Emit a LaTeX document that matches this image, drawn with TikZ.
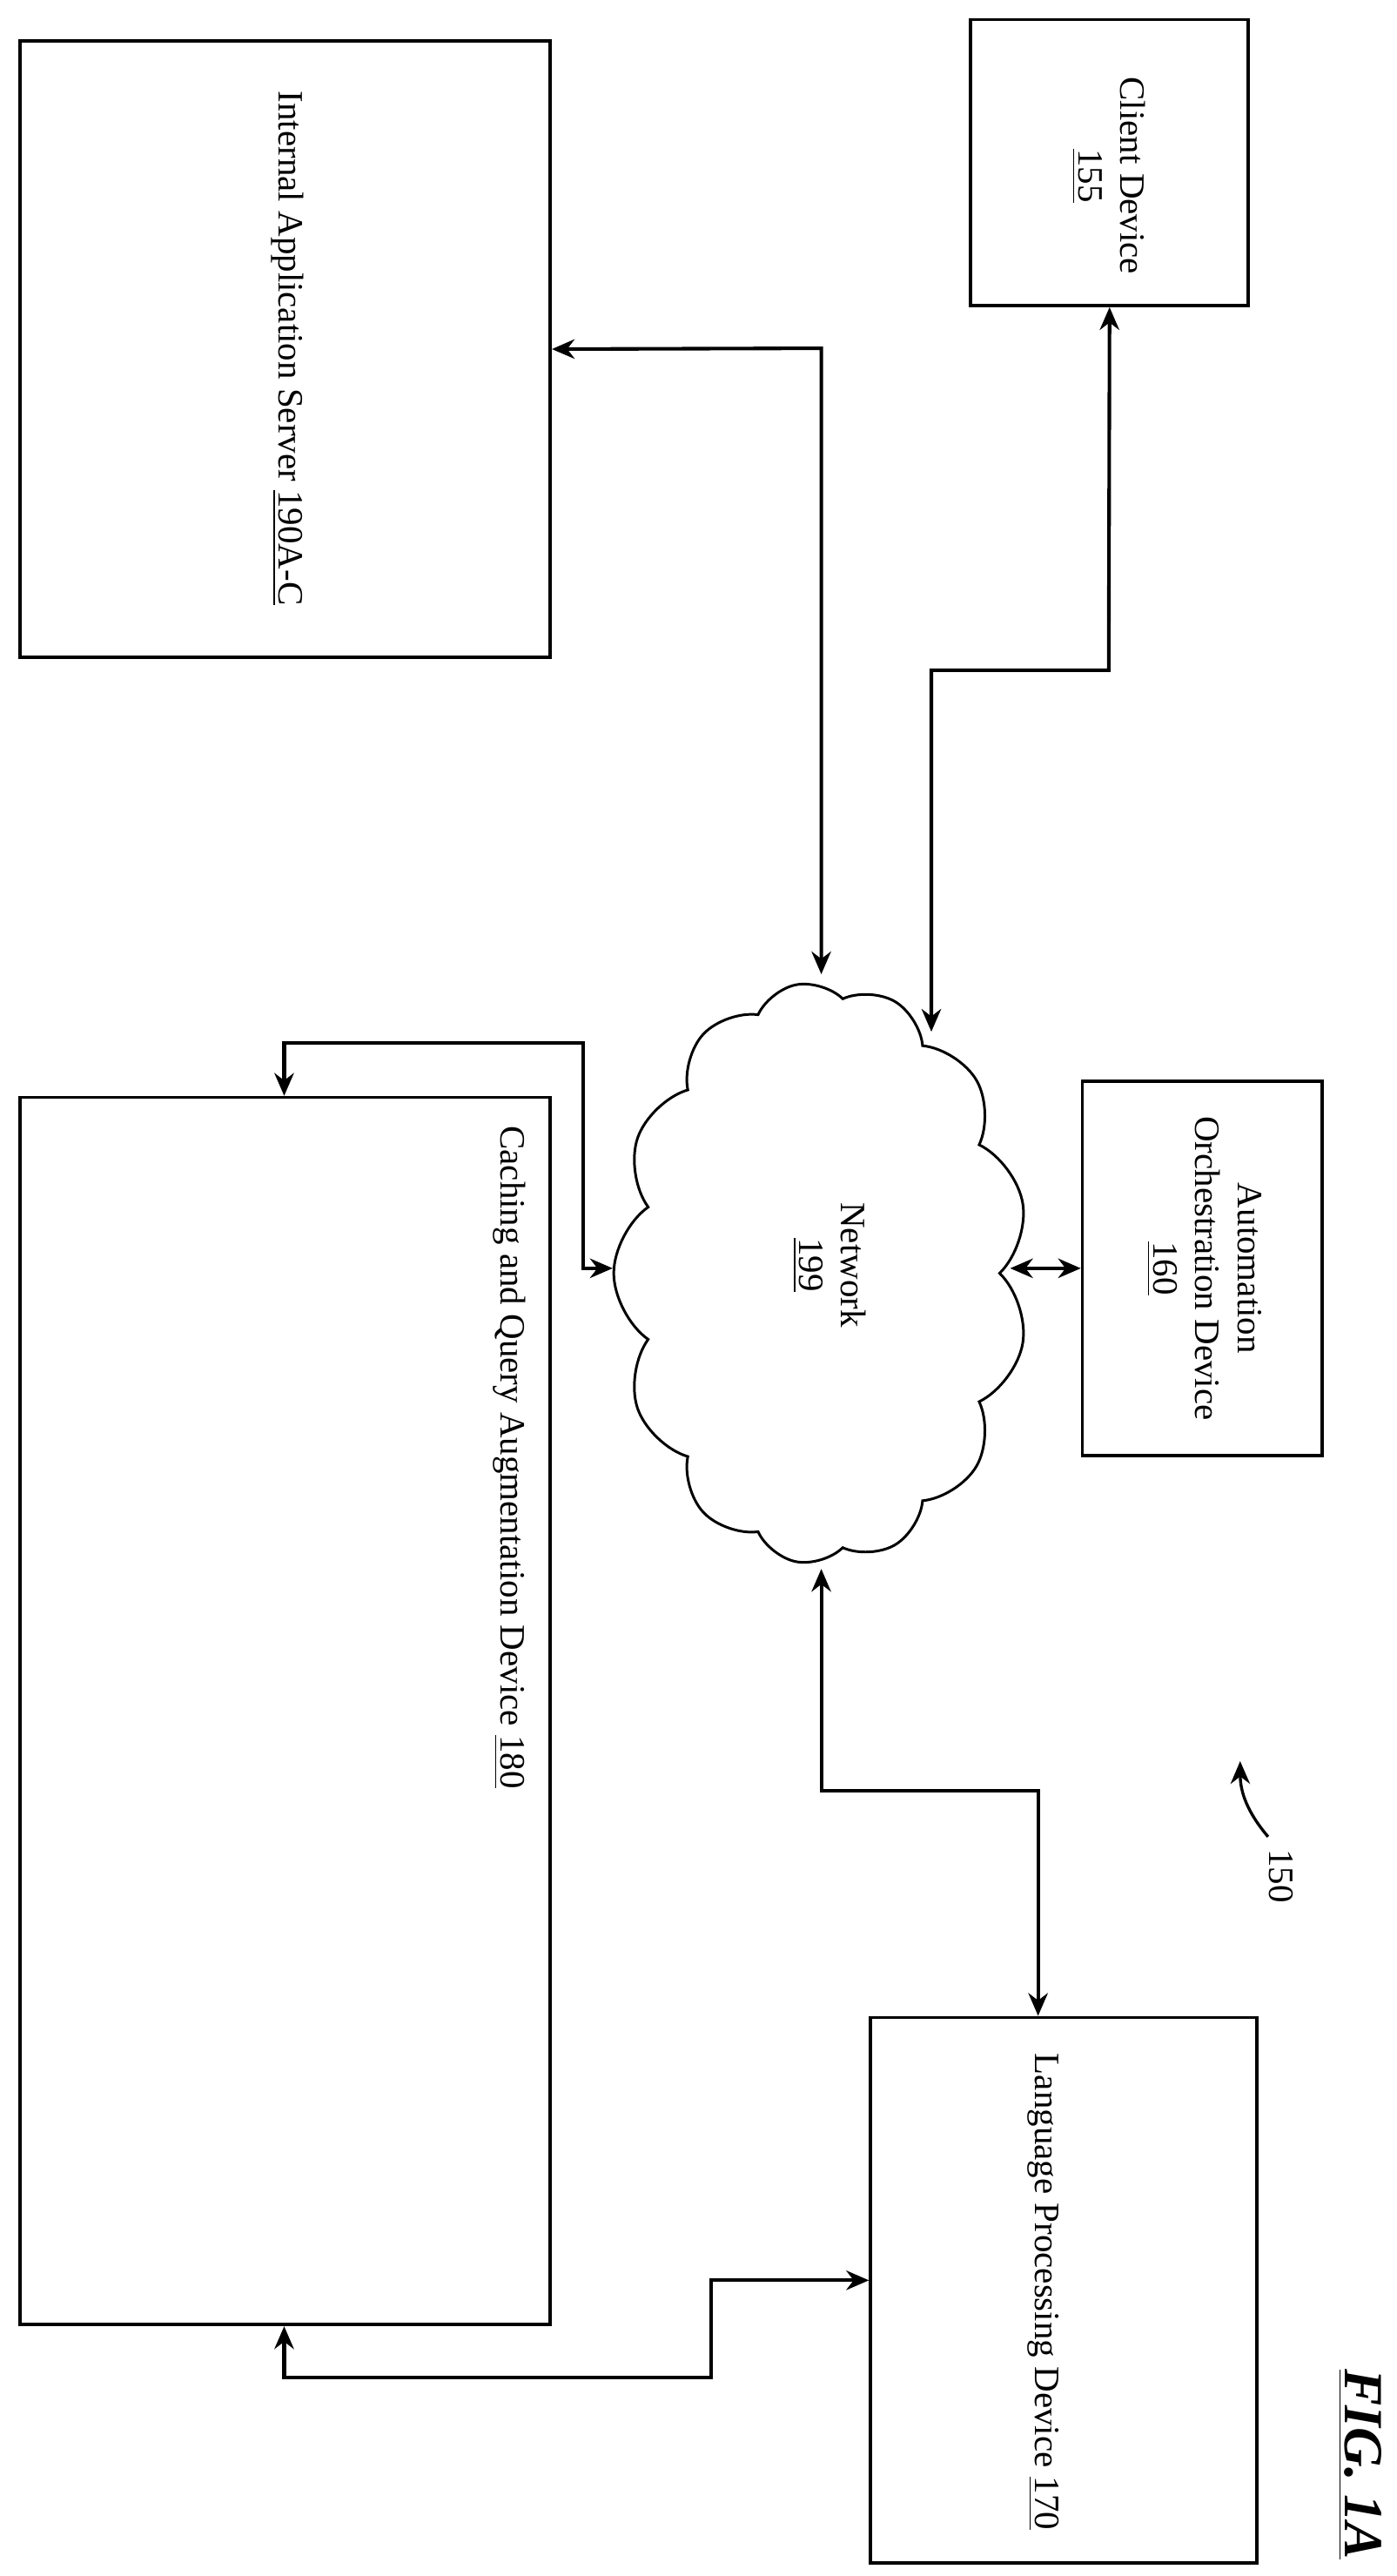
\documentclass[tikz,border=0pt]{standalone}
\usepackage{fontspec}
\setmainfont{Liberation Serif}
\usetikzlibrary{fit,shapes.symbols,arrows.meta}
\begin{document}
\begin{tikzpicture}[x=0.0178cm,y=-0.0178cm,
 box/.style={draw,line width=1pt,inner sep=0pt},
 lbl/.style={rotate=-90,font=\fontsize{11}{13}\selectfont,align=center},
 con/.style={line width=1.1pt,{Stealth[length=7pt,width=6pt]}-{Stealth[length=7pt,width=6pt]}}]
\useasboundingbox (0,0) rectangle (850,1568);
\node[box,fit={(12,25)(335,400)}] (ias) {};
\node[lbl] at (175,212) {Internal Application Server \underline{190A-C}};
\node[box,fit={(591,12)(760,186)}] (cd) {};
\node[lbl,anchor=west] at (675,40) {Client Device\\\underline{155}};
\node[box,fit={(12,668)(335,1415)}] (cq) {};
\node[lbl] at (310,887) {Caching and Query Augmentation Device \underline{180}};
\node[box,fit={(659,658)(805,886)}] (ao) {};
\node[lbl] at (733,772) {Automation\\Orchestration Device\\\underline{160}};
\node[box,fit={(530,1228)(765,1560)}] (lp) {};
\node[lbl] at (635,1395) {Language Processing Device \underline{170}};
\node[cloud,draw,line width=0.8pt,cloud puffs=13,cloud puff arc=110,minimum width=6.3cm,minimum height=4.5cm,rotate=90] (net) at (500,775) {};
\node[lbl] at (505,770) {Network\\\underline{199}};
\draw[con] (ias.east) -- (500,212) -- (500,593);
\draw[con] (cd.south) -- (675,408) -- (567,408) -- (567,628);
\draw[con] (cq.north -| 173,0) -- (173,635) -- (355,635) -- (355,772) -- (373,772);
\draw[con] (ao.west) -- (615,772);
\draw[con] (500,955) -- (500,1090) -- (632,1090) -- (lp.north -| 632,0);
\draw[con] (cq.south -| 173,0) -- (173,1447) -- (433,1447) -- (433,1388) -- (lp.west |- 0,1388);
\node[lbl] (n150) at (780,1142) {150};
\draw[line width=0.9pt,-{Stealth[length=7pt,width=6pt]}] (772,1118) to[bend left=20] (755,1072);
\node[rotate=-90,font=\fontsize{17}{19}\selectfont\bfseries\itshape] (fig) at (828,1500) {\underline{FIG. 1A}};
\end{tikzpicture}
\end{document}
